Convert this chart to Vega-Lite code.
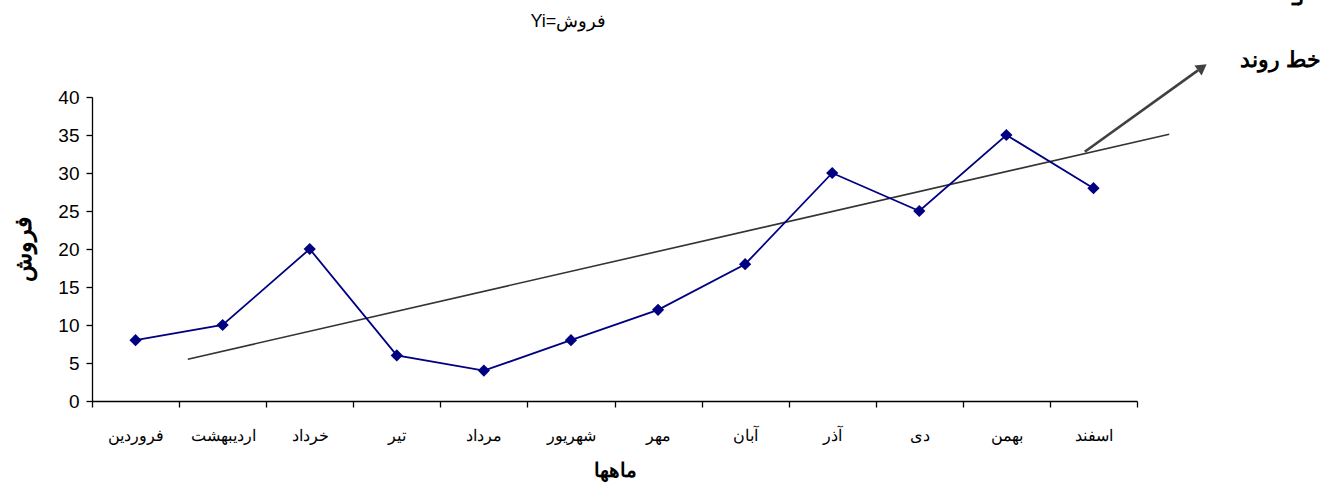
{
  "$schema": "https://vega.github.io/schema/vega-lite/v6.json",
  "width": 1045,
  "height": 304,
  "autosize": "none",
  "padding": {"left": 92, "top": 97, "right": 198, "bottom": 85},
  "background": "white",
  "config": {
    "font": "Liberation Sans",
    "view": {"stroke": null},
    "axis": {"domainColor": "black", "tickColor": "black", "labelColor": "black", "titleColor": "black", "grid": false, "domainWidth": 1.3, "tickWidth": 1.3}
  },
  "datasets": {
    "sales": [
      {"x": 1, "y": 8, "month": "فروردین"},
      {"x": 2, "y": 10, "month": "اردیبهشت"},
      {"x": 3, "y": 20, "month": "خرداد"},
      {"x": 4, "y": 6, "month": "تیر"},
      {"x": 5, "y": 4, "month": "مرداد"},
      {"x": 6, "y": 8, "month": "شهریور"},
      {"x": 7, "y": 12, "month": "مهر"},
      {"x": 8, "y": 18, "month": "آبان"},
      {"x": 9, "y": 30, "month": "آذر"},
      {"x": 10, "y": 25, "month": "دی"},
      {"x": 11, "y": 35, "month": "بهمن"},
      {"x": 12, "y": 28, "month": "اسفند"}
    ],
    "trend": [{"x": 1.6, "y": 5.5}, {"x": 12.87, "y": 35.1}],
    "arrow": [{"x": 11.9, "y": 32.8}, {"x": 13.2, "y": 43.5}],
    "arrowhead": [{"x": 13.25, "y": 43.9}],
    "title": [{"x": 5.97, "y": 49.9, "label": "Yi=فروش"}],
    "notes": [
      {"x": 14.15, "y": 44.9, "label": "خط روند"},
      {"x": 14.35, "y": 53.0, "label": "تـ"}
    ]
  },
  "encoding": {
    "x": {
      "field": "x", "type": "quantitative",
      "scale": {"domain": [0.5, 12.5], "nice": false, "zero": false},
      "axis": {
        "values": [0.5, 1.5, 2.5, 3.5, 4.5, 5.5, 6.5, 7.5, 8.5, 9.5, 10.5, 11.5, 12.5],
        "labelExpr": "datum.value < 12 ? ['فروردین','اردیبهشت','خرداد','تیر','مرداد','شهریور','مهر','آبان','آذر','دی','بهمن','اسفند'][floor(datum.value)] : ''",
        "labelOffset": 43.5,
        "labelOverlap": false,
        "labelFlush": false,
        "labelBound": false,
        "labelFontSize": 16,
        "labelPadding": 20,
        "tickSize": 6,
        "title": "ماهها",
        "titleFontSize": 20,
        "titleFontWeight": "bold",
        "titlePadding": 17
      }
    },
    "y": {
      "field": "y", "type": "quantitative",
      "scale": {"domain": [0, 40], "nice": false},
      "axis": {
        "values": [0, 5, 10, 15, 20, 25, 30, 35, 40],
        "labelFontSize": 19,
        "labelPadding": 7,
        "tickSize": 6,
        "title": "فروش",
        "titleFontSize": 24,
        "titleFontWeight": "bold",
        "titlePadding": 22
      }
    }
  },
  "layer": [
    {
      "data": {"name": "trend"},
      "mark": {"type": "line", "color": "#333333", "strokeWidth": 1.6, "clip": false}
    },
    {
      "data": {"name": "arrow"},
      "mark": {"type": "line", "color": "#404040", "strokeWidth": 2.6, "clip": false}
    },
    {
      "data": {"name": "arrowhead"},
      "mark": {"type": "point", "shape": "triangle-up", "filled": true, "color": "#404040", "opacity": 1, "size": 150, "angle": 54, "clip": false}
    },
    {
      "data": {"name": "sales"},
      "mark": {"type": "line", "color": "#000080", "strokeWidth": 1.8, "point": {"filled": true, "shape": "diamond", "size": 150, "color": "#000080", "opacity": 1}}
    },
    {
      "data": {"name": "title"},
      "mark": {"type": "text", "fontSize": 18, "font": "Liberation Sans", "color": "black", "clip": false},
      "encoding": {"text": {"field": "label"}}
    },
    {
      "data": {"name": "notes"},
      "mark": {"type": "text", "fontSize": 22, "fontWeight": "bold", "font": "Liberation Sans", "color": "black", "clip": false},
      "encoding": {"text": {"field": "label"}}
    }
  ]
}
